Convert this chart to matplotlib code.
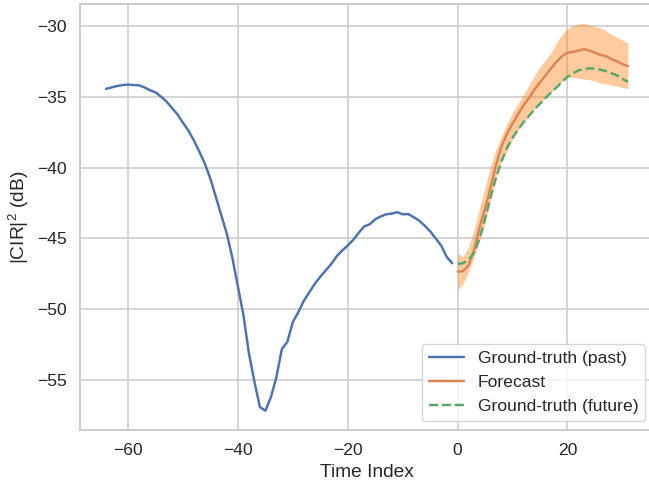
import numpy as np
import seaborn as sns
from matplotlib import pyplot as plt

# time axes
t_past = np.arange(-64, 0)
t_future = np.arange(0, 32)

# ground truth, past window (dB)
gt_past = [-34.45, -34.35, -34.25, -34.18, -34.15, -34.18, -34.2, -34.35,
           -34.55, -34.7, -35.0, -35.35, -35.8, -36.25, -36.85, -37.4,
           -38.1, -38.9, -39.75, -40.8, -42.1, -43.4, -44.7, -46.4,
           -48.4, -50.4, -53.1, -55.1, -56.9, -57.15, -56.2, -54.8,
           -52.8, -52.3, -50.9, -50.2, -49.4, -48.8, -48.2, -47.7,
           -47.25, -46.8, -46.25, -45.85, -45.5, -45.1, -44.6, -44.15,
           -44.0, -43.65, -43.45, -43.3, -43.25, -43.15, -43.3, -43.28,
           -43.5, -43.75, -44.1, -44.5, -45.0, -45.5, -46.3, -46.75]

# ground truth, future window (dB)
gt_future = [-46.8, -46.75, -46.5, -46.0, -45.0, -43.6, -42.1, -40.7,
             -39.55, -38.6, -37.9, -37.3, -36.8, -36.35, -35.9, -35.5,
             -35.1, -34.7, -34.35, -33.95, -33.6, -33.35, -33.15, -33.05,
             -33.0, -33.02, -33.1, -33.2, -33.35, -33.5, -33.75, -33.95]

# forecast mean and band
forecast = [-47.35, -47.3, -46.9, -45.8, -44.2, -42.9, -41.4, -39.8,
            -38.5, -37.6, -36.9, -36.25, -35.6, -35.1, -34.5, -34.0,
            -33.5, -33.0, -32.55, -32.15, -31.9, -31.85, -31.75, -31.65,
            -31.75, -31.9, -32.05, -32.15, -32.35, -32.5, -32.7, -32.85]
fc_upper = [-46.05, -46.3, -45.6, -44.4, -42.8, -41.4, -39.9, -38.7,
            -37.8, -36.9, -36.1, -35.5, -34.85, -34.2, -33.5, -32.9,
            -32.4, -31.9, -31.2, -30.6, -30.2, -30.0, -29.85, -29.83,
            -29.95, -30.05, -30.15, -30.35, -30.6, -30.8, -31.0, -31.25]
fc_lower = [-48.65, -48.2, -47.3, -46.3, -45.2, -43.9, -42.3, -40.7,
            -39.5, -38.8, -38.0, -37.4, -36.85, -36.35, -35.9, -35.5,
            -35.1, -34.7, -34.3, -33.95, -33.65, -33.65, -33.7, -33.75,
            -33.8, -33.9, -34.05, -34.1, -34.2, -34.25, -34.35, -34.45]

sns.set_theme(style='whitegrid')
plt.rcParams['font.family'] = ['Liberation Sans', 'DejaVu Sans']
plt.rcParams['mathtext.fontset'] = 'custom'
plt.rcParams['mathtext.rm'] = 'Liberation Sans'
plt.rcParams['mathtext.it'] = 'Liberation Sans:italic'
plt.rcParams['xtick.labelsize'] = 12.6
plt.rcParams['ytick.labelsize'] = 12.6
plt.rcParams['axes.labelsize'] = 13.8
plt.rcParams['legend.fontsize'] = 12.6
plt.rcParams['grid.linewidth'] = 1.15
plt.rcParams['axes.linewidth'] = 1.4

fig = plt.figure(figsize=(6.49, 4.87), dpi=100)
ax = fig.add_axes([80 / 649, 57 / 487, 574 / 649, 426 / 487])

lw = 1.75
ax.plot(t_past, gt_past, color='C0', lw=lw, label='Ground-truth (past)')
ax.plot(t_future, forecast, color='C1', lw=lw, label='Forecast')
ax.fill_between(t_future, fc_lower, fc_upper, color='#ff7f0e', alpha=0.4, linewidth=0)
ax.plot(t_future, gt_future, color='C2', lw=lw, linestyle='--', label='Ground-truth (future)')

ax.set_xlabel('Time Index')
ax.set_ylabel('|CIR|$^2$ (dB)')
ax.legend(loc='lower right')

fig.savefig('out.png', dpi=100)
